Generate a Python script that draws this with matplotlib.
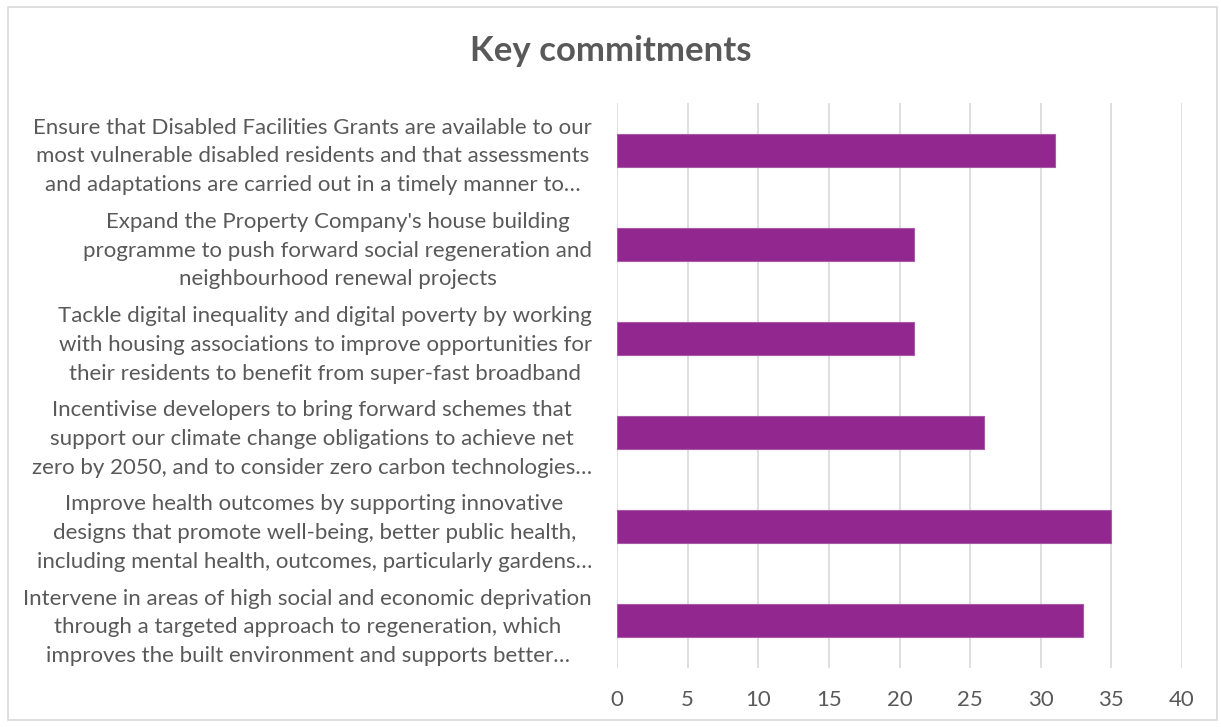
import numpy as np
import matplotlib.pyplot as plt
from matplotlib.patches import Rectangle

# Commitments, listed top to bottom as shown
labels = [
    "Ensure that Disabled Facilities Grants are available to our\nmost vulnerable disabled residents and that assessments\nand adaptations are carried out in a timely manner to\u2026",
    "Expand the Property Company's house building\nprogramme to push forward social regeneration and\nneighbourhood renewal projects",
    "Tackle digital inequality and digital poverty by working\nwith housing associations to improve opportunities for\ntheir residents to benefit from super-fast broadband",
    "Incentivise developers to bring forward schemes that\nsupport our climate change obligations to achieve net\nzero by 2050, and to consider zero carbon technologies\u2026",
    "Improve health outcomes by supporting innovative\ndesigns that promote well-being, better public health,\nincluding mental health, outcomes, particularly gardens\u2026",
    "Intervene in areas of high social and economic deprivation\nthrough a targeted approach to regeneration, which\nimproves the built environment and supports better\u2026",
]
counts = [31, 21, 21, 26, 35, 33]
xticks = [0, 5, 10, 15, 20, 25, 30, 35, 40]

text_col = "#595959"
bar_col = "#92278F"
grid_col = "#D9D9D9"

plt.rcParams['font.family'] = ['Lato', 'DejaVu Sans']

fig = plt.figure(figsize=(12.21, 7.27), dpi=100)
ax = fig.add_axes([617 / 1221, 1 - 668 / 727, (1182 - 617) / 1221, (668 - 103) / 727])

y = np.arange(len(labels))
ax.barh(y, counts, height=0.35, color=bar_col, edgecolor="#A85AA6", linewidth=0.8, zorder=3)
ax.set_ylim(len(labels) - 0.5, -0.5)
ax.set_xlim(0, 40)
ax.set_xticks(xticks)
ax.set_xticklabels([str(t) for t in xticks], fontsize=16, color=text_col)
ax.set_yticks(y)
ax.set_yticklabels(labels, fontsize=16, color=text_col, multialignment="center", linespacing=1.55)
ax.tick_params(axis="both", length=0)
ax.tick_params(axis="x", pad=16)
ax.tick_params(axis="y", pad=18)
ax.grid(axis="x", color=grid_col, linewidth=1.2, zorder=0)
for s in ax.spines.values():
    s.set_visible(False)

fig.text(0.5, 1 - 51 / 727, "Key commitments", ha="center", va="center",
         fontsize=25, fontweight="bold", color=text_col)

# light outer frame
fig.patches.append(Rectangle((8 / 1221, 1 - 720 / 727), 1209 / 1221, 713 / 727,
                             transform=fig.transFigure, fill=False,
                             edgecolor=grid_col, linewidth=1.2))

fig.savefig("out.png", dpi=100)
